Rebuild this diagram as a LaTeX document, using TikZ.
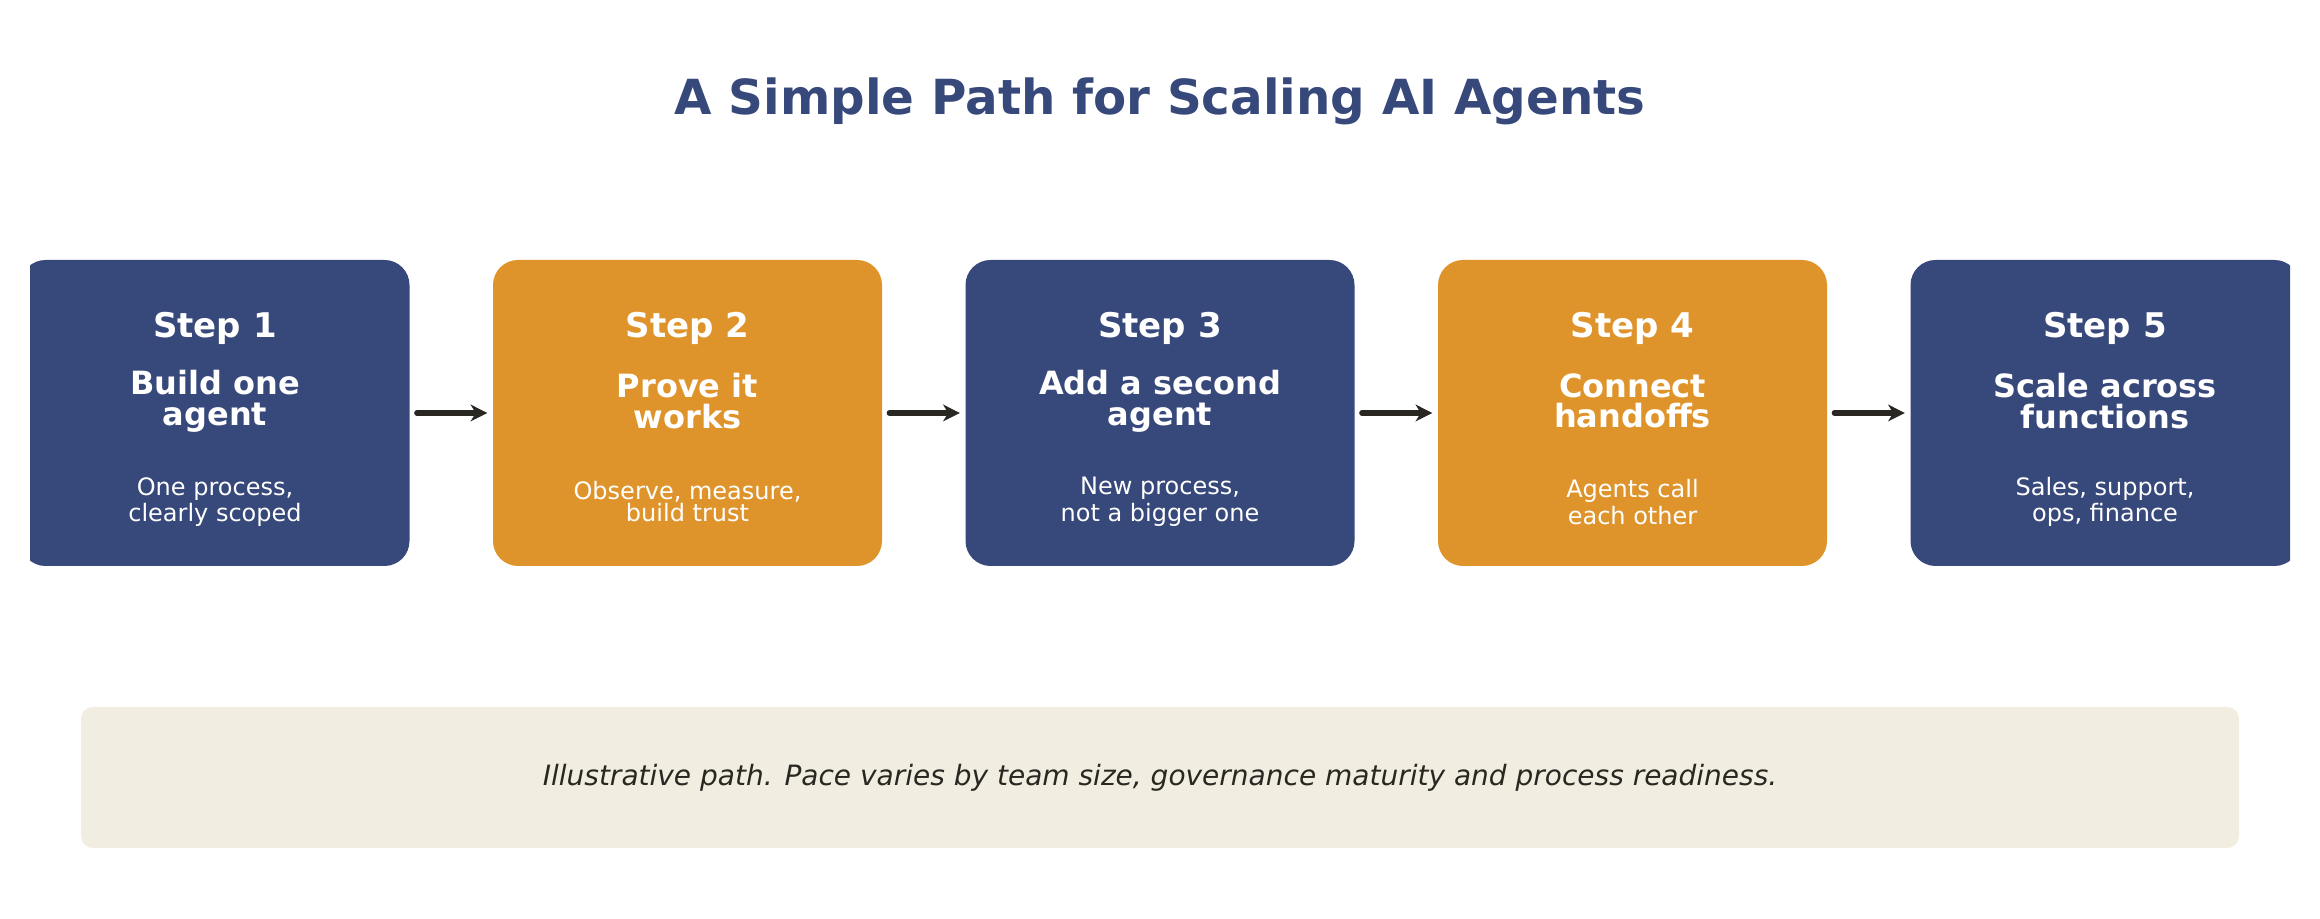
\documentclass[tikz,border=0pt]{standalone}
\usepackage{fontspec}
\setmainfont{DejaVu Sans}
\usetikzlibrary{arrows.meta, positioning, calc}
\definecolor{navy}{HTML}{37487A}
\definecolor{amber}{HTML}{DF942B}
\definecolor{cream}{HTML}{F1EDE1}
\definecolor{ink}{HTML}{2A2722}

\begin{document}
\begin{tikzpicture}[x=0.3pt, y=0.3pt, >=Stealth, line cap=round, line join=round]
	%======================
	% STYLES
	%======================
	\tikzset{
		stepbox/.style={rounded corners=7.5pt, minimum width=116.7pt, minimum height=91.8pt, inner sep=0pt},
		navystep/.style={stepbox, fill=navy},
		amberstep/.style={stepbox, fill=amber},
		num/.style={text=white, font=\bfseries\fontsize{10.2}{12}\selectfont},
		head/.style={text=white, font=\bfseries\fontsize{9.6}{9.2}\selectfont, align=center},
		desc/.style={text=white, font=\fontsize{7.2}{6.6}\selectfont, align=center},
		flow/.style={-{Stealth[length=5pt, width=5pt, inset=1.5pt]}, line width=1.6pt, ink}
	}
	\useasboundingbox (0,0) rectangle (2320,919);

	% title
	\node[text=navy, font=\bfseries\fontsize{14.5}{16}\selectfont] (title) at (1160,818) {A Simple Path for Scaling AI Agents};

	% steps (outer boxes clipped by the frame)
	\begin{scope}
		\clip (30,0) rectangle (2290,919);
		\node[navystep]  (s1) at (215,506)  {};
		\node[amberstep] (s2) at (687.5,506)  {};
		\node[navystep]  (s3) at (1160,506) {};
		\node[amberstep] (s4) at (1632.5,506) {};
		\node[navystep]  (s5) at (2105,506) {};
	\end{scope}

	\foreach \i/\h/\d in {1/{Build one\\agent}/{One process,\\clearly scoped},
		2/{Prove it\\works}/{Observe, measure,\\build trust},
		3/{Add a second\\agent}/{New process,\\not a bigger one},
		4/{Connect\\handoffs}/{Agents call\\each other},
		5/{Scale across\\functions}/{Sales, support,\\ops, finance}}{
		\node[num]  (n\i) at ($(s\i.center)+(0,85)$)  {Step \i};
		\node[head] (h\i) at ($(s\i.center)+(0,12)$)  {\h};
		\node[desc] (d\i) at ($(s\i.center)+(0,-89)$) {\d};
	}

	% arrows
	\foreach \a/\b in {1/2, 2/3, 3/4, 4/5}
		\draw[flow] ([xshift=2pt]s\a.east) -- ([xshift=-1.5pt]s\b.west);

	% footer note
	\node[fill=cream, rounded corners=3.5pt, minimum width=647.4pt, minimum height=42.3pt,
		font=\itshape\fontsize{8.4}{10}\selectfont, text=ink] (note) at (1160,141.5)
		{Illustrative path. Pace varies by team size, governance maturity and process readiness.};
\end{tikzpicture}
\end{document}
